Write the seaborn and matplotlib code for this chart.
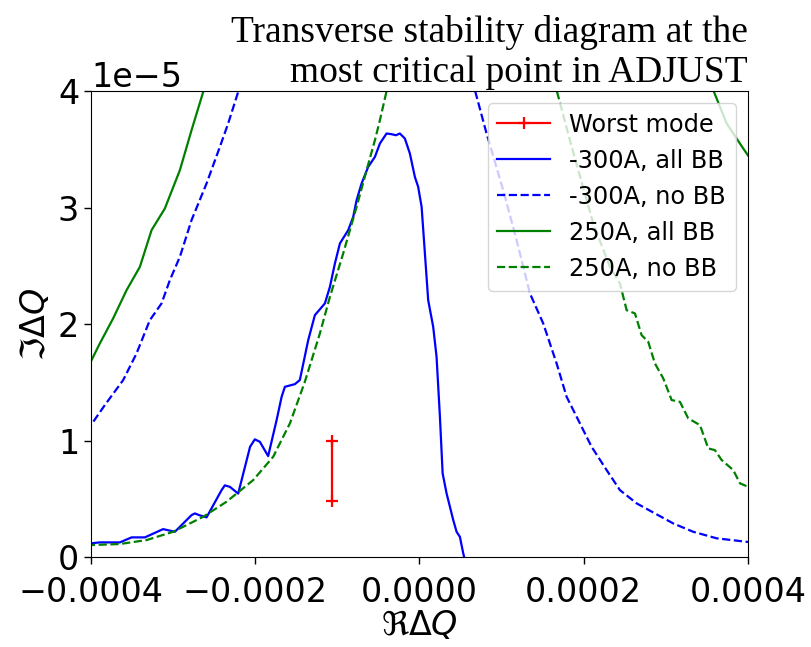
import numpy as np
import matplotlib
matplotlib.use("Agg")
import matplotlib.pyplot as plt
import seaborn as sns

# ---- data (real part in units of 1e-4, imaginary part in units of 1e-5) ----
worst_re = [-1.06, -1.06]
worst_im = [0.48, 1.00]

m300_all_re = [-4.0, -3.892, -3.648, -3.505, -3.343, -3.121, -2.978, -2.775, -2.735, -2.682,
               -2.592, -2.409, -2.369, -2.308, -2.207, -2.062, -2.004, -1.943, -1.842, -1.739,
               -1.678, -1.638, -1.516, -1.456, -1.354, -1.273, -1.151, -1.090, -1.029, -0.968,
               -0.867, -0.806, -0.765, -0.704, -0.624, -0.542, -0.481, -0.400, -0.339, -0.286,
               -0.238, -0.177, -0.116, -0.055, -0.015, 0.027, 0.067, 0.107, 0.168, 0.209,
               0.250, 0.283, 0.331, 0.412, 0.453, 0.493, 0.534, 0.554, 0.57]
m300_all_im = [0.118, 0.126, 0.126, 0.169, 0.169, 0.240, 0.217, 0.360, 0.375, 0.360,
               0.341, 0.575, 0.616, 0.603, 0.545, 0.947, 1.011, 0.990, 0.867, 1.176,
               1.376, 1.462, 1.485, 1.520, 1.863, 2.077, 2.178, 2.320, 2.521, 2.693,
               2.807, 2.921, 3.064, 3.208, 3.350, 3.436, 3.551, 3.637, 3.631, 3.622,
               3.637, 3.594, 3.465, 3.264, 3.179, 3.007, 2.607, 2.206, 1.977, 1.719,
               1.204, 0.718, 0.547, 0.318, 0.217, 0.174, 0.032, -0.026, -0.10]

m300_no_left_re = [-4.05, -4.0, -3.831, -3.608, -3.445, -3.283, -3.140, -3.039, -2.917, -2.775,
                   -2.592, -2.430, -2.329, -2.207, -2.15]
m300_no_left_im = [1.08, 1.133, 1.305, 1.519, 1.748, 2.034, 2.178, 2.378, 2.578, 2.893,
                   3.208, 3.522, 3.723, 3.994, 4.15]
m300_no_right_re = [0.62, 0.676, 0.818, 1.021, 1.184, 1.346, 1.508, 1.671, 1.793, 1.955,
                    2.097, 2.280, 2.442, 2.646, 2.868, 3.091, 3.335, 3.620, 3.985, 4.05]
m300_no_right_im = [4.20, 4.009, 3.637, 3.150, 2.721, 2.264, 2.006, 1.663, 1.376, 1.148,
                    0.947, 0.747, 0.575, 0.461, 0.375, 0.289, 0.217, 0.161, 0.131, 0.128]

p250_all_left_re = [-4.05, -3.993, -3.892, -3.730, -3.566, -3.404, -3.262, -3.100, -2.917,
                    -2.775, -2.633, -2.58]
p250_all_left_im = [1.60, 1.691, 1.834, 2.049, 2.292, 2.492, 2.807, 2.993, 3.322,
                    3.665, 3.994, 4.15]
p250_all_right_re = [3.54, 3.579, 3.742, 3.944, 4.05]
p250_all_right_im = [4.10, 4.009, 3.723, 3.508, 3.40]

p250_no_left_re = [-4.05, -4.0, -3.648, -3.323, -2.999, -2.633, -2.349, -2.024, -1.781,
                   -1.577, -1.395, -1.212, -1.090, -0.928, -0.765, -0.643, -0.542, -0.481,
                   -0.40, -0.35]
p250_no_left_im = [0.10, 0.103, 0.112, 0.146, 0.217, 0.346, 0.475, 0.661, 0.861,
                   1.148, 1.505, 1.920, 2.234, 2.607, 3.007, 3.322, 3.579, 3.751,
                   4.00, 4.20]
p250_no_right_re = [1.62, 1.671, 1.833, 2.117, 2.320, 2.442, 2.524, 2.625, 2.706, 2.787,
                    2.868, 2.970, 3.072, 3.173, 3.274, 3.417, 3.518, 3.599, 3.681, 3.822,
                    3.904, 4.005, 4.05]
p250_no_right_im = [4.30, 4.009, 3.579, 2.864, 2.492, 2.349, 2.120, 2.092, 1.906, 1.848,
                    1.663, 1.534, 1.348, 1.333, 1.191, 1.133, 0.933, 0.918, 0.833, 0.747,
                    0.633, 0.603, 0.59]

RE, IM = 1e-4, 1e-5

fig = plt.figure(figsize=(8.12, 6.47), dpi=100)
ax = fig.add_axes([0.112, 0.139, 0.809, 0.720])

def line(xs, ys, color, ls, label=None, **kw):
    sns.lineplot(x=np.asarray(xs) * RE, y=np.asarray(ys) * IM, ax=ax, color=color,
                 linestyle=ls, linewidth=1.6, sort=False, estimator=None, label=label, **kw)

line(worst_re, worst_im, "red", "-", marker="+", markersize=9,
     markeredgewidth=1.6, markeredgecolor="red")
line(m300_all_re, m300_all_im, "blue", "-")
line(m300_no_left_re, m300_no_left_im, "blue", "--")
line(m300_no_right_re, m300_no_right_im, "blue", "--")
line(p250_all_left_re, p250_all_left_im, "green", "-")
line(p250_all_right_re, p250_all_right_im, "green", "-")
line(p250_no_left_re, p250_no_left_im, "green", "--")
line(p250_no_right_re, p250_no_right_im, "green", "--")

lines = ax.get_lines()
handles = [lines[0], lines[1], lines[2], lines[4], lines[6]]
labels = ["Worst mode", "-300A, all BB", "-300A, no BB", "250A, all BB", "250A, no BB"]
if ax.get_legend() is not None:
    ax.get_legend().remove()
ax.legend(handles, labels, loc="upper right", fontsize=17.3, handlelength=2.2)

ax.set_xlim(-4e-4, 4e-4)
ax.set_ylim(0, 4e-5)
ax.set_xticks([-4e-4, -2e-4, 0, 2e-4, 4e-4])
ax.set_yticks([0, 1e-5, 2e-5, 3e-5, 4e-5])
ax.tick_params(labelsize=24, length=5, width=1.0)
ax.tick_params(axis="x", pad=8.5)
ax.yaxis.get_offset_text().set_fontsize(24)
ax.set_xlabel(r"$\Re\Delta Q$", fontsize=24, labelpad=0)
ax.set_ylabel(r"$\Im\Delta Q$", fontsize=24)
ax.set_title("Transverse stability diagram at the\nmost critical point in ADJUST",
             loc="right", fontsize=27, family="Liberation Serif", pad=7)

fig.savefig("out.png", dpi=100)
